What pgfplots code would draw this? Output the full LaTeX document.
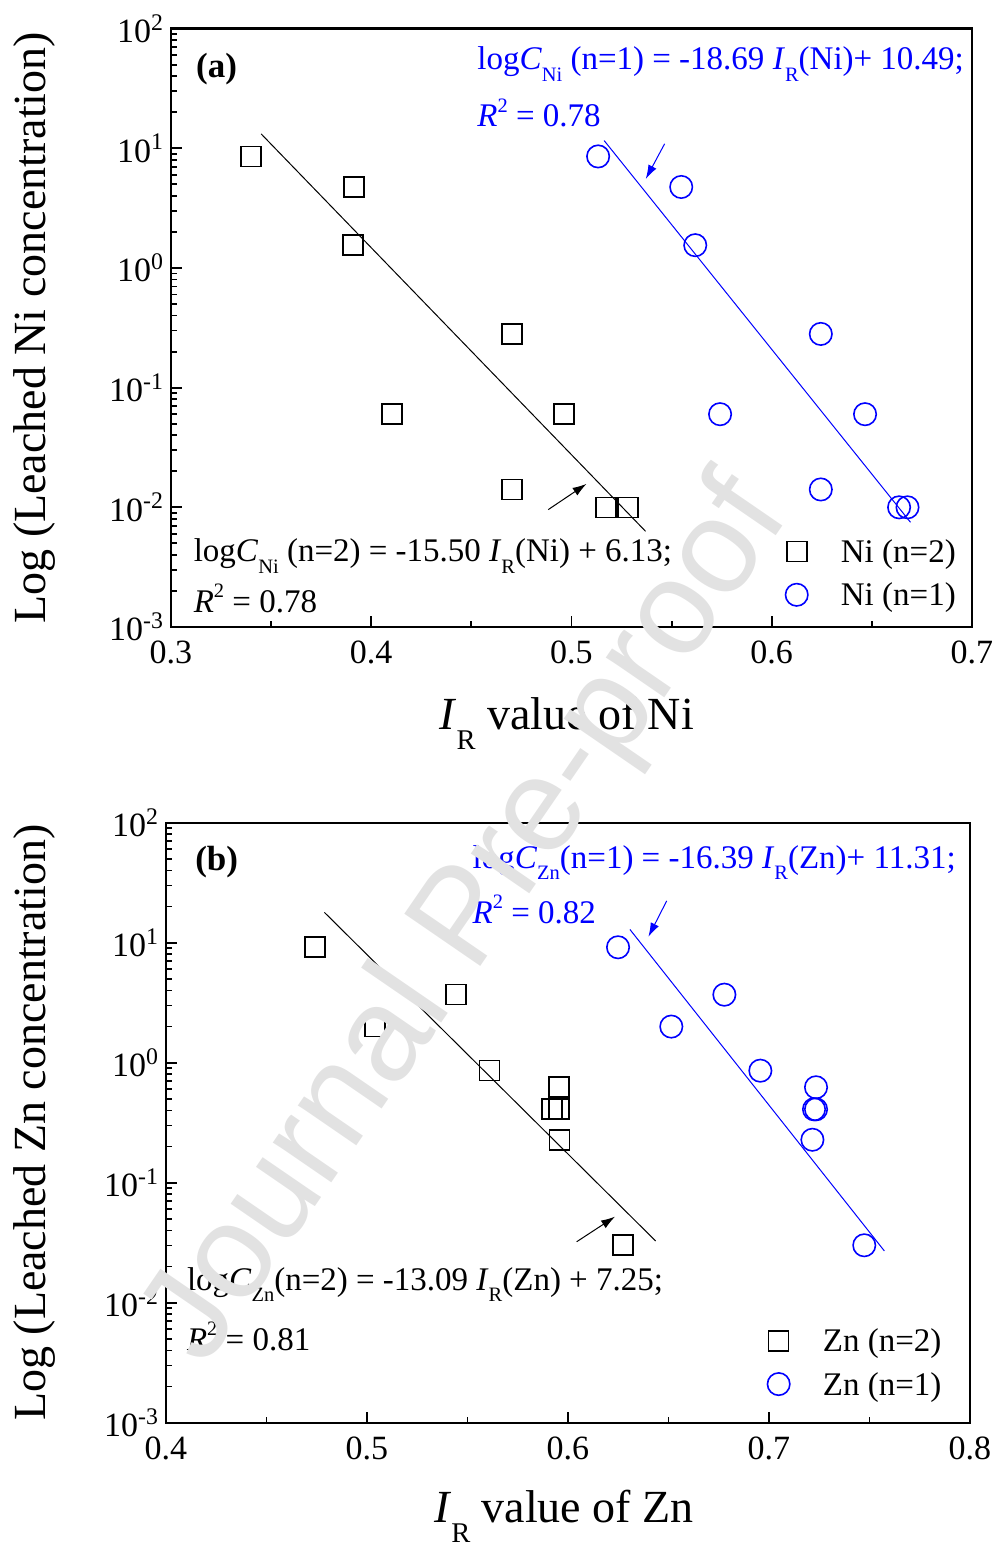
\documentclass[border=0pt]{standalone}
\usepackage{fontspec}
\setmainfont{Liberation Serif}
\newfontfamily\wmfont{Liberation Sans}
\usepackage{graphicx}
\usepackage{pgfplots}
\pgfplotsset{compat=1.18}
\usetikzlibrary{arrows.meta}
\definecolor{myblue}{RGB}{0,0,255}
\definecolor{wm}{RGB}{226,226,226}

\newcommand\sbs[1]{\raisebox{-0.35em}{\scalebox{0.62}{#1}}}
\newcommand\sps[1]{\raisebox{0.45em}{\scalebox{0.62}{#1}}}
\newcommand\annfont{\fontsize{16.5}{16.5}\selectfont}

\pgfplotsset{
  sq/.style={only marks, mark=square, mark size=5pt, black, mark options={line width=0.8pt}},
  ci/.style={only marks, mark=o, mark size=5.6pt, myblue, mark options={line width=0.8pt}},
  fit/.style={line width=0.5pt, forget plot},
  arr/.style={line width=0.5pt, forget plot, -{Latex[length=7pt,width=4.5pt]}},
  myaxis/.style={
    scale only axis,
    anchor=south west,
    ymin=1e-3, ymax=1e2,
    ytick={1e-3,1e-2,1e-1,1,1e1,1e2},
    yticklabels={10\textsuperscript{-3},10\textsuperscript{-2},10\textsuperscript{-1},10\textsuperscript{0},10\textsuperscript{1},10\textsuperscript{2}},
    axis line style={line width=1.1pt},
    every tick/.style={black, line width=0.9pt},
    major tick length=5.5pt, minor tick length=2.8pt,
    xtick pos=bottom, ytick pos=left,
    tick align=inside,
    tick label style={font=\fontsize{17}{17}\selectfont},
    xticklabel style={yshift=-3.5pt},
    label style={font=\fontsize{23}{23}\selectfont},
    clip=false,
    legend cell align=left,
    legend image post style={yshift=3pt},
    legend style={draw=none, fill=none, font=\annfont, anchor=north west,
      inner xsep=0pt, inner ysep=0pt, row sep=7pt,
      nodes={inner sep=1pt, text height=0.75em, text depth=0.25em},
      /tikz/every odd column/.append style={column sep=15.5pt}},
  }
}

\begin{document}
\begin{tikzpicture}
\path[use as bounding box] (0,0) rectangle (499.5pt,772pt);

% ---------------- panel (a)
\begin{axis}[ymode=log, myaxis,
  at={(85.5pt,458.5pt)},
  width=400.5pt, height=299.2pt,
  xmin=0.3, xmax=0.7,
  xtick={0.3,0.4,0.5,0.6,0.7}, xticklabels={0.3,0.4,0.5,0.6,0.7},
  minor xtick={0.35,0.45,0.55,0.65},
  xlabel={\textit{I}\raisebox{-0.42em}{\scalebox{0.62}{R}} value of Ni},
  ylabel={Log (Leached Ni concentration)},
  xlabel style={at={(axis description cs:0.494,-0.172)}, anchor=base},
  ylabel style={at={(axis description cs:-0.171,0.5)}, anchor=center},
  legend style={at={(rel axis cs:0.7667,0.1434)}},
]
\addplot[sq] coordinates {(0.340,8.55)(0.3915,4.75)(0.391,1.55)(0.4704,0.281)(0.4105,0.060)(0.4962,0.060)(0.4704,0.0141)(0.5172,0.0100)(0.5283,0.0100)};
\addlegendentry{Ni (n=2)}
\addplot[ci] coordinates {(0.5133,8.55)(0.5548,4.75)(0.5618,1.55)(0.6245,0.281)(0.5742,0.060)(0.6466,0.060)(0.6245,0.0141)(0.6636,0.0100)(0.6678,0.0100)};
\addlegendentry{Ni (n=1)}
\addplot[fit, black] coordinates {(0.345,13.2)(0.537,0.0063)};
\addplot[fit, myblue] coordinates {(0.5163,11.6)(0.6693,0.0075)};
\addplot[arr, black] coordinates {(0.4884,0.00957)(0.5075,0.0157)};
\addplot[arr, myblue] coordinates {(0.5465,10.9)(0.5371,5.54)};
\node[anchor=base west, inner sep=0pt, font=\fontsize{17.5}{17.5}\selectfont\bfseries] at (rel axis cs:0.031,0.919) {(a)};
\node[anchor=base west, inner sep=0pt, font=\annfont, text=myblue] at (rel axis cs:0.382,0.931) {log\textit{C}\sbs{Ni} (n=1) = -18.69 \textit{I}\sbs{R}(Ni)+ 10.49;};
\node[anchor=base west, inner sep=0pt, font=\annfont, text=myblue] at (rel axis cs:0.382,0.8356) {\textit{R}\sps{2} = 0.78};
\node[anchor=base west, inner sep=0pt, font=\annfont] at (rel axis cs:0.028,0.109) {log\textit{C}\sbs{Ni} (n=2) = -15.50 \textit{I}\sbs{R}(Ni) + 6.13;};
\node[anchor=base west, inner sep=0pt, font=\annfont] at (rel axis cs:0.028,0.024) {\textit{R}\sps{2} = 0.78};
\end{axis}

% ---------------- panel (b)
\begin{axis}[ymode=log, myaxis,
  at={(83pt,60.65pt)},
  width=402pt, height=300pt,
  xmin=0.4, xmax=0.8,
  xtick={0.4,0.5,0.6,0.7,0.8}, xticklabels={0.4,0.5,0.6,0.7,0.8},
  minor xtick={0.45,0.55,0.65,0.75},
  xlabel={\textit{I}\raisebox{-0.42em}{\scalebox{0.62}{R}} value of Zn},
  ylabel={Log (Leached Zn concentration)},
  xlabel style={at={(axis description cs:0.495,-0.167)}, anchor=base},
  ylabel style={at={(axis description cs:-0.164,0.5)}, anchor=center},
  legend style={at={(rel axis cs:0.7476,0.1537)}},
]
\addplot[sq] coordinates {(0.474,9.16)(0.5444,3.69)(0.504,2.0)(0.561,0.858)(0.5955,0.624)(0.5919,0.409)(0.5955,0.409)(0.5957,0.228)(0.6274,0.0301)};
\addlegendentry{Zn (n=2)}
\addplot[ci] coordinates {(0.6249,9.16)(0.6514,2.0)(0.6778,3.69)(0.6957,0.858)(0.7234,0.624)(0.7224,0.409)(0.7234,0.409)(0.7216,0.228)(0.7474,0.0301)};
\addlegendentry{Zn (n=1)}
\addplot[fit, black] coordinates {(0.4788,17.9)(0.6436,0.0327)};
\addplot[fit, myblue] coordinates {(0.6308,12.9)(0.7574,0.027)};
\addplot[arr, black] coordinates {(0.6043,0.0322)(0.6234,0.0521)};
\addplot[arr, myblue] coordinates {(0.6491,22.3)(0.6400,11.2)};
\node[anchor=base west, inner sep=0pt, font=\fontsize{17.5}{17.5}\selectfont\bfseries] at (rel axis cs:0.036,0.921) {(b)};
\node[anchor=base west, inner sep=0pt, font=\annfont, text=myblue] at (rel axis cs:0.381,0.9245) {log\textit{C}\sbs{Zn}(n=1) = -16.39 \textit{I}\sbs{R}(Zn)+ 11.31;};
\node[anchor=base west, inner sep=0pt, font=\annfont, text=myblue] at (rel axis cs:0.381,0.832) {\textit{R}\sps{2} = 0.82};
\node[anchor=base west, inner sep=0pt, font=\annfont] at (rel axis cs:0.0257,0.221) {log\textit{C}\sbs{Zn}(n=2) = -13.09 \textit{I}\sbs{R}(Zn) + 7.25;};
\node[anchor=base west, inner sep=0pt, font=\annfont] at (rel axis cs:0.0257,0.121) {\textit{R}\sps{2} = 0.81};
\end{axis}

% watermark
\node[rotate=55.5, font=\wmfont\fontsize{67}{67}\selectfont, text=wm, inner sep=0pt] at (234.5pt,311pt) {Journal Pre-proof};
\end{tikzpicture}
\end{document}
